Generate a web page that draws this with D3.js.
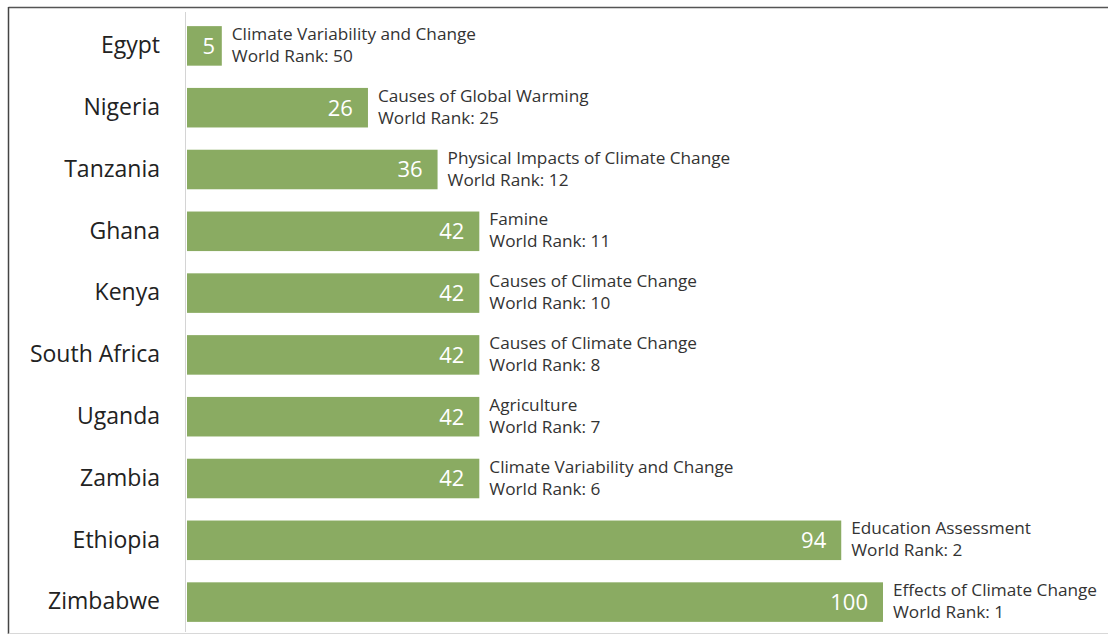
<!DOCTYPE html>
<html>
<head>
<meta charset="utf-8">
<script src="https://cdn.jsdelivr.net/npm/d3@7"></script>
<style>
  html, body { margin: 0; padding: 0; background: #fff; }
  svg { display: block; }
</style>
</head>
<body>
<svg id="chart" width="1108" height="637"></svg>
<script>
// Countries, their scores and the top-ranked topic for each
const countries = ["Egypt", "Nigeria", "Tanzania", "Ghana", "Kenya", "South Africa", "Uganda", "Zambia", "Ethiopia", "Zimbabwe"];
const scores = [5, 26, 36, 42, 42, 42, 42, 42, 94, 100];
const topics = [
  "Climate Variability and Change",
  "Causes of Global Warming",
  "Physical Impacts of Climate Change",
  "Famine",
  "Causes of Climate Change",
  "Causes of Climate Change",
  "Agriculture",
  "Climate Variability and Change",
  "Education Assessment",
  "Effects of Climate Change"
];
const worldRanks = [50, 25, 12, 11, 10, 8, 7, 6, 2, 1];

const rows = countries.map((c, i) => ({
  country: c, score: scores[i], topic: topics[i], rank: worldRanks[i]
}));

const svg = d3.select("#chart");
const font = "'Open Sans', 'Noto Sans', sans-serif";
const barColor = "#8aab62";

const x = d3.scaleLinear().domain([0, 100]).range([187, 883]);
const y = d3.scaleBand().domain(countries).range([15, 633])
  .paddingInner(0.36).paddingOuter(0.18);

// frame
svg.append("line").attr("x1", 8.5).attr("x2", 1108).attr("y1", 7.5).attr("y2", 7.5)
  .attr("stroke", "#555").attr("stroke-width", 1.5);
svg.append("line").attr("x1", 8.5).attr("x2", 8.5).attr("y1", 7).attr("y2", 634)
  .attr("stroke", "#444").attr("stroke-width", 1.5);
svg.append("line").attr("x1", 8.5).attr("x2", 1108).attr("y1", 633.5).attr("y2", 633.5)
  .attr("stroke", "#d8d8d8").attr("stroke-width", 1);

// category axis line
svg.append("line").attr("x1", 185.5).attr("x2", 185.5).attr("y1", 12).attr("y2", 632)
  .attr("stroke", "#d4d4d4").attr("stroke-width", 1);

// country labels
const yAxis = d3.axisLeft(y).tickSize(0).tickPadding(0);
const ax = svg.append("g").attr("transform", "translate(160,0)").call(yAxis);
ax.select(".domain").remove();
ax.selectAll("text")
  .attr("font-family", font).attr("font-size", 23).attr("fill", "#222");

const g = svg.append("g");

// bars
g.selectAll("rect.bar").data(rows).join("rect")
  .attr("class", "bar")
  .attr("x", x(0))
  .attr("y", d => y(d.country))
  .attr("width", d => x(d.score) - x(0))
  .attr("height", y.bandwidth())
  .attr("fill", barColor);

// value labels inside the bar end
g.selectAll("text.val").data(rows).join("text")
  .attr("class", "val")
  .attr("x", d => Math.max(x(d.score) - 15, x(0) + 28))
  .attr("y", d => y(d.country) + y.bandwidth() / 2)
  .attr("dy", "0.36em")
  .attr("text-anchor", "end")
  .attr("font-family", font).attr("font-size", 22)
  .attr("fill", "#fff")
  .text(d => d.score);

// topic + world rank annotations
const ann = g.selectAll("text.ann").data(rows).join("text")
  .attr("class", "ann")
  .attr("font-family", font).attr("font-size", 17.2)
  .attr("fill", "#333");
ann.append("tspan")
  .attr("x", d => x(d.score) + 10)
  .attr("y", d => y(d.country) + y.bandwidth() / 2 - 12)
  .attr("dy", "0.35em")
  .text(d => d.topic);
ann.append("tspan")
  .attr("x", d => x(d.score) + 10)
  .attr("y", d => y(d.country) + y.bandwidth() / 2 + 10)
  .attr("dy", "0.35em")
  .text(d => "World Rank: " + d.rank);
</script>
</body>
</html>
